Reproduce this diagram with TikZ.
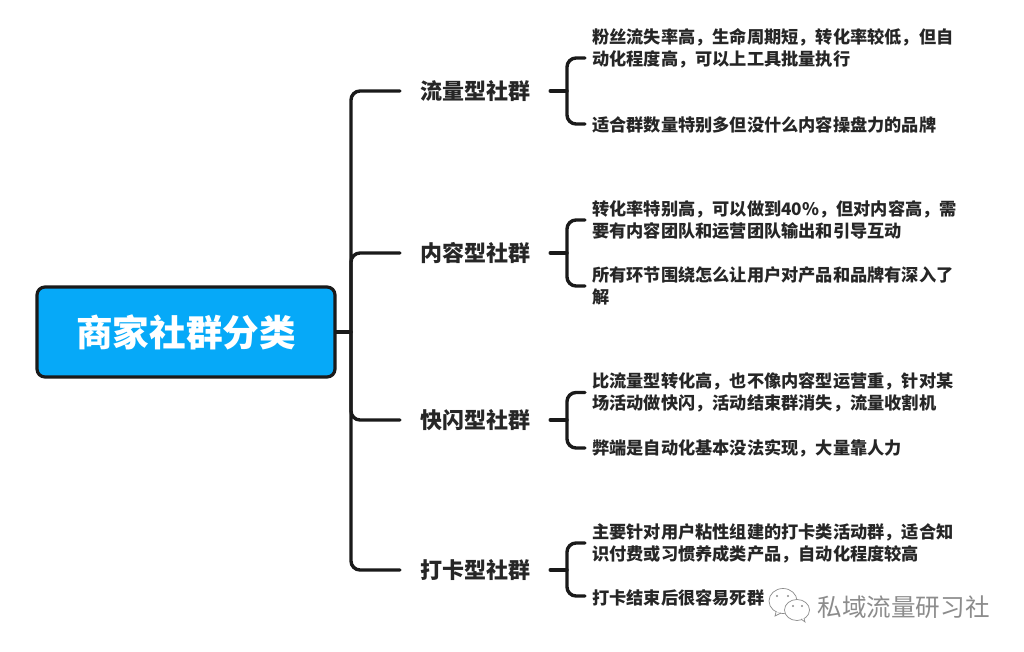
\documentclass[tikz,border=0pt]{standalone}
\usepackage{fontspec}
\setmainfont{Noto Sans CJK SC}
\begin{document}
\begin{tikzpicture}[x=1pt,y=-1pt,
  link/.style={draw=linkc,line width=3.4pt,rounded corners=9pt,line cap=round},
  rootbox/.style={draw=linkc,line width=3.2pt,fill=rootc,rounded corners=8pt,minimum width=298pt,minimum height=90pt,text=white,font=\fontsize{36.6}{40}\selectfont\bfseries,inner sep=0pt},
  topic/.style={minimum width=150pt,minimum height=26pt,inner sep=0pt,text=textc,font=\fontsize{22}{24}\selectfont\bfseries},
  leaf/.style={anchor=west,align=left,inner ysep=0pt,inner xsep=7pt,text=textc,font=\fontsize{17.2}{22}\selectfont\bfseries},
  bubble/.style={draw=markc,line width=.7pt,fill=white}]
\definecolor{linkc}{HTML}{1A1A1A}
\definecolor{rootc}{HTML}{06A9F8}
\definecolor{textc}{HTML}{262626}
\definecolor{markc}{HTML}{8C8C8C}
\useasboundingbox (0,0) rectangle (1024,652);
\fill[white] (0,0) rectangle (1024,652);
\node[rootbox] (root) at (186,332) {商家社群分类};
\coordinate (spine) at (351,332);
\node[topic] (a) at (475,91) {流量型社群};
\node[topic] (b) at (475,253) {内容型社群};
\node[topic] (c) at (475,420) {快闪型社群};
\node[topic] (d) at (475,570) {打卡型社群};
\coordinate (abar) at (567,91);
\coordinate (bbar) at (567,253);
\coordinate (cbar) at (567,420);
\coordinate (dbar) at (567,570);
\node[leaf] (a1) at (585,48) {粉丝流失率高，生命周期短，转化率较低，但自\\动化程度高，可以上工具批量执行};
\node[leaf] (a2) at (585,125) {适合群数量特别多但没什么内容操盘力的品牌};
\node[leaf] (b1) at (585,220) {转化率特别高，可以做到40\%，但对内容高，需\\要有内容团队和运营团队输出和引导互动};
\node[leaf] (b2) at (585,286) {所有环节围绕怎么让用户对产品和品牌有深入了\\解};
\node[leaf] (c1) at (585,392.5) {比流量型转化高，也不像内容型运营重，针对某\\场活动做快闪，活动结束群消失，流量收割机};
\node[leaf] (c2) at (585,448) {弊端是自动化基本没法实现，大量靠人力};
\node[leaf] (d1) at (585,543) {主要针对用户粘性组建的打卡类活动群，适合知\\识付费或习惯养成类产品，自动化程度较高};
\node[leaf] (d2) at (585,598) {打卡结束后很容易死群};
\draw[link] (root.east) -- (spine);
\foreach \t in {a,b,c,d} \draw[link] (\t.west) -| (spine);
\draw[link] ([yshift=-10pt]a1.west) -| (abar) |- ([yshift=1pt]a2.west);
\draw[link] (b1.west) -| (bbar) |- (b2.west);
\draw[link] (c1.west) -| (cbar) |- (c2.west);
\draw[link] (d1.west) -| (dbar) |- ([yshift=2pt]d2.west);
\draw[link] (a.east) -- (abar);
\draw[link] (b.east) -- (bbar);
\draw[link] (c.east) -- (cbar);
\draw[link] (d.east) -- (dbar);
% watermark
\draw[bubble] (783,601) ellipse (14pt and 12.5pt);
\draw[bubble] (776,612) -- (775,616) -- (781,613);
\draw[bubble] (797,610) ellipse (12.5pt and 10.5pt);
\draw[bubble] (801,619) -- (805,622) -- (804,618);
\fill[markc] (777,596) circle (1.2pt) (788,596) circle (1.2pt) (793,606) circle (1.2pt) (802,606) circle (1.2pt);
\node[inner sep=0pt,text=markc,font=\fontsize{24.6}{26}\selectfont] (wm) at (903.5,607) {私域流量研习社};
\end{tikzpicture}
\end{document}
